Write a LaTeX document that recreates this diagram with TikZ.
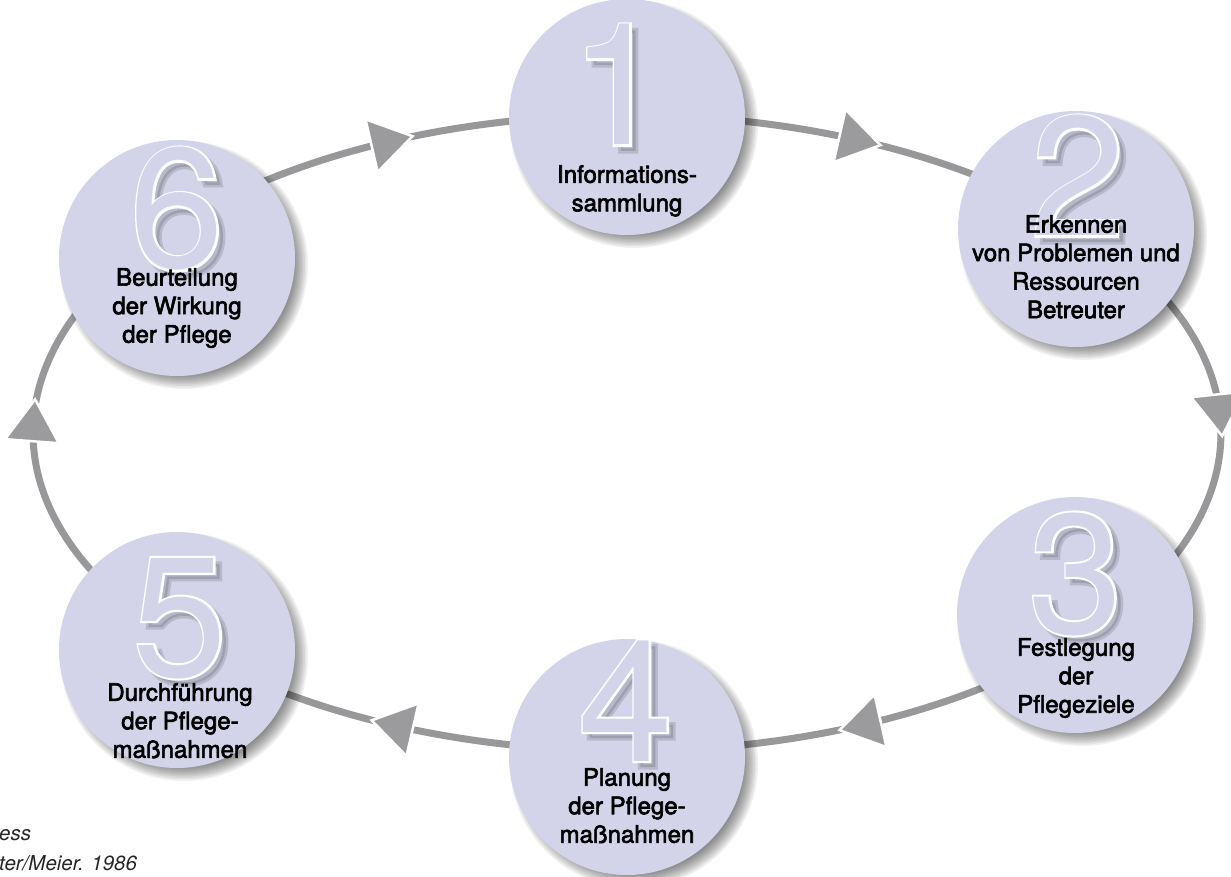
\documentclass[tikz,border=0pt]{standalone}
\usepackage{fontspec}
\setmainfont{TeX Gyre Heros}
\newfontfamily\lblfont[FakeBold=2.5]{TeX Gyre Heros}
\newfontfamily\numfont{TeX Gyre Heros}
\newfontfamily\numfontW[FakeBold=2.4]{TeX Gyre Heros}
\newfontfamily\numfontS[FakeBold=3]{TeX Gyre Heros}
\definecolor{lav}{RGB}{211,212,233}
\definecolor{linegray}{RGB}{152,152,154}
\definecolor{arrowgray}{RGB}{155,155,157}
\pgfdeclarelayer{bg}
\pgfsetlayers{bg,main}
\tikzset{
  stepcircle/.style={circle, fill=lav, minimum size=236pt, inner sep=0pt},
  lbl/.style={font=\lblfont\fontsize{24}{28.5}\selectfont, align=center, inner sep=0pt, anchor=north, text=black},
  digitsize/.style={inner sep=0pt, anchor=base},
  conn/.style={draw=linegray, line width=7pt},
  arrowtri/.style={fill=arrowgray, draw=white, line width=2.5pt, line join=miter},
  note/.style={font=\itshape\fontsize{20.5}{24}\selectfont, inner sep=0pt, anchor=base west, text=black!85},
}
\newcommand\stepnode[3]{%
  \foreach \k in {0,...,11}{\fill[black,opacity=0.055] (#2+7,#3+7) circle[radius=124pt-\k*1.5pt];}
  \node[stepcircle] (#1) at (#2,#3) {};
}
\newcommand\bignum[4]{%
  \node[digitsize, font=\numfontS\fontsize{170}{170}\selectfont, text=black, text opacity=0.13] (#1s) at (#2+6,#3+6) {#4};
  \node[digitsize, font=\numfontW\fontsize{170}{170}\selectfont, text=white] (#1w) at (#2,#3) {#4};
  \node[digitsize, font=\numfont\fontsize{170}{170}\selectfont, text=lav] (#1) at (#2,#3) {#4};
}
\begin{document}
\begin{tikzpicture}[x=1pt,y=-1pt]
\useasboundingbox (0,0) rectangle (1231,877);
% points of the cycle path (ellipse) inside each step circle
\coordinate (e1) at ({627+594*cos(270)},{433+318*sin(270)});
\coordinate (e2) at ({627+594*cos(319.1)},{433+318*sin(319.1)});
\coordinate (e3) at ({627+594*cos(40.9)},{433+318*sin(40.9)});
\coordinate (e4) at ({627+594*cos(90)},{433+318*sin(90)});
\coordinate (e5) at ({627+594*cos(139.1)},{433+318*sin(139.1)});
\coordinate (e6) at ({627+594*cos(220.9)},{433+318*sin(220.9)});
\begin{pgfonlayer}{bg}
  \draw[conn] (e1) arc[start angle=-270, end angle=-319.1, x radius=594pt, y radius=318pt];
  \draw[conn] (e2) arc[start angle=40.9, end angle=-40.9, x radius=594pt, y radius=318pt];
  \draw[conn] (e3) arc[start angle=-40.9, end angle=-90, x radius=594pt, y radius=318pt];
  \draw[conn] (e4) arc[start angle=-90, end angle=-139.1, x radius=594pt, y radius=318pt];
  \draw[conn] (e5) arc[start angle=-139.1, end angle=-220.9, x radius=594pt, y radius=318pt];
  \draw[conn] (e6) arc[start angle=-220.9, end angle=-270, x radius=594pt, y radius=318pt];
  \foreach \t in {246.7, 293.1, 356.8, 66.9, 113.3, 182.3}{%
    \pgfmathsetmacro\ang{atan2(-318*cos(\t), -594*sin(\t))}
    \filldraw[arrowtri, shift={({627+594*cos(\t)},{433+318*sin(\t)})}, rotate=\ang]
      (21pt,0pt) -- (-21pt,27pt) -- (-21pt,-27pt) -- cycle;
  }
\end{pgfonlayer}
% step circles
\stepnode{c1}{627}{117}
\stepnode{c2}{1076}{229}
\stepnode{c3}{1075}{615}
\stepnode{c4}{627}{757}
\stepnode{c5}{177}{650}
\stepnode{c6}{177}{258}
% big numbers
\bignum{n1}{618}{145}{1}
\bignum{n2}{1078}{236}{2}
\bignum{n3}{1076}{633}{3}
\bignum{n4}{626}{761}{4}
\bignum{n5}{180}{676}{5}
\bignum{n6}{177}{268}{6}
% labels
\node[lbl] (l1) at (627,165) {Informations-\\sammlung};
\node[lbl] (l2) at (1076,215) {Erkennen\\von Problemen und\\Ressourcen\\Betreuter};
\node[lbl] (l3) at (1076,638) {Festlegung\\der\\Pflegeziele};
\node[lbl] (l4) at (627,768) {Planung\\der Pflege-\\maßnahmen};
\node[lbl] (l5) at (180,683) {Durchführung\\der Pflege-\\maßnahmen};
\node[lbl] (l6) at (177,268) {Beurteilung\\der Wirkung\\der Pflege};
% source note (cut at the left edge)
\node[note] (src1) at (-1,840) {ess};
\node[note] (src2) at (-1,870) {ter/Meier. 1986};
\end{tikzpicture}
\end{document}
